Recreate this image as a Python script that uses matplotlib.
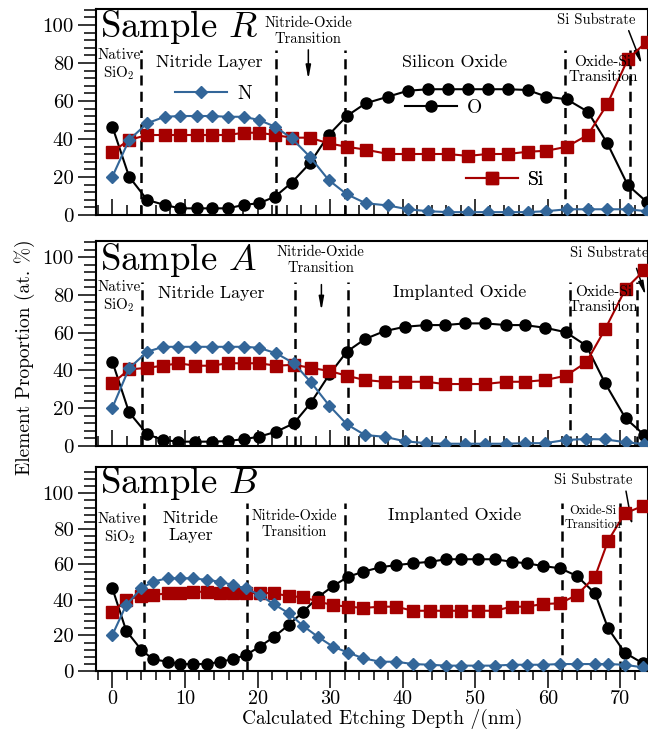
import matplotlib
matplotlib.use('Agg')
import matplotlib.pyplot as plt
from matplotlib.lines import Line2D
from matplotlib.ticker import MultipleLocator

plt.rcParams.update({
    'font.family': 'serif',
    'font.serif': ['cmr10'],
    'mathtext.fontset': 'cm',
    'axes.unicode_minus': False,
    'axes.linewidth': 1.5,
})

BLUE = '#336699'
RED = '#a50000'

# ---- Sample R (top) ----
depth_R = [0, 2.3, 4.8, 7.2, 9.3, 11.6, 13.7, 15.9, 18.1, 20.2, 22.4, 24.7, 27.2, 29.8, 32.3,
           34.9, 38.0, 40.7, 43.5, 46.2, 49.0, 51.7, 54.5, 57.2, 59.8, 62.6, 65.5, 68.2, 71.0, 73.6]
N_R = [20.2, 39.5, 48.3, 51.7, 52.1, 52.1, 52.1, 51.7, 51.7, 50.0, 46.5, 40.4, 30.7, 18.4, 10.9,
       6.2, 5.0, 3.0, 2.0, 1.5, 1.5, 1.5, 1.5, 1.5, 2.0, 3.0, 3.0, 3.0, 3.0, 2.0]
O_R = [46.5, 20.2, 7.9, 5.3, 3.5, 3.5, 3.5, 3.5, 5.3, 6.2, 9.6, 17.0, 27.2, 42.1, 52.1,
       58.8, 62.3, 65.4, 66.2, 66.2, 66.2, 66.2, 66.2, 65.8, 62.3, 60.9, 54.4, 37.7, 15.8, 7.0]
Si_R = [33.3, 39.5, 42.1, 42.1, 42.1, 42.1, 42.1, 42.1, 43.3, 43.3, 42.1, 40.7, 40.7, 37.7, 35.9,
        34.4, 32.1, 32.1, 32.1, 32.1, 31.1, 32.1, 32.1, 33.3, 33.8, 35.9, 42.1, 58.4, 81.9, 91.2]

# ---- Sample A (middle) ----
depth_A = [0, 2.3, 4.8, 7.0, 9.1, 11.4, 13.7, 15.9, 18.2, 20.2, 22.6, 25.0, 27.3, 29.9, 32.3,
           34.8, 37.5, 40.3, 43.2, 45.8, 48.6, 51.3, 54.3, 56.8, 59.6, 62.5, 65.3, 67.9, 70.7, 73.3]
N_A = [20.3, 41.1, 49.9, 52.5, 52.5, 52.5, 52.5, 52.5, 52.5, 52.0, 49.0, 43.8, 34.0, 21.3, 11.5,
       5.8, 4.9, 2.5, 1.5, 1.2, 1.2, 1.2, 1.2, 1.5, 1.5, 3.2, 3.7, 3.5, 2.0, 1.0]
O_A = [44.6, 17.8, 6.2, 3.2, 2.3, 2.3, 2.3, 2.6, 3.7, 4.9, 7.6, 12.0, 22.6, 37.9, 49.9,
       56.6, 60.8, 63.1, 64.0, 64.0, 64.9, 64.9, 64.0, 64.0, 62.6, 60.2, 53.1, 33.2, 14.7, 5.8]
Si_A = [33.2, 40.5, 41.4, 42.5, 43.8, 42.5, 42.5, 43.8, 43.8, 43.8, 42.5, 43.0, 41.4, 39.7, 37.2,
        34.9, 34.0, 34.0, 34.0, 32.8, 32.8, 32.8, 34.0, 34.0, 34.9, 37.2, 44.3, 61.9, 83.1, 93.1]

# ---- Sample B (bottom) ----
depth_B = [0, 1.9, 4.0, 5.6, 7.6, 9.3, 11.1, 13.1, 14.8, 16.6, 18.4, 20.3, 22.2, 24.3, 26.3, 28.4,
           30.4, 32.5, 34.6, 36.9, 39.1, 41.4, 43.8, 46.0, 48.1, 50.4, 52.7, 55.0, 57.1, 59.3,
           61.7, 64.0, 66.5, 68.3, 70.6, 73.1]
N_B = [20.3, 37.1, 46.5, 50.3, 52.2, 52.2, 52.2, 51.2, 50.3, 48.4, 46.5, 42.8, 37.7, 32.5, 25.3, 19.0,
       13.7, 10.3, 7.1, 5.2, 5.2, 3.9, 3.5, 3.0, 3.0, 3.0, 3.0, 3.5, 3.5, 3.5,
       3.9, 3.9, 3.9, 3.9, 3.5, 2.0]
O_B = [46.5, 22.7, 11.8, 6.6, 5.2, 3.9, 3.9, 3.9, 5.2, 6.6, 9.0, 13.7, 19.0, 25.9, 33.4, 41.8,
       47.8, 53.1, 55.9, 58.4, 59.6, 60.6, 61.5, 62.9, 62.9, 62.9, 62.9, 61.5, 60.6, 59.1,
       57.8, 53.5, 43.7, 24.0, 10.3, 4.3]
Si_B = [33.4, 40.0, 42.2, 42.8, 43.7, 43.7, 44.6, 44.6, 43.7, 43.7, 43.7, 44.1, 43.7, 42.2, 41.5, 39.0,
        37.1, 36.2, 35.5, 36.2, 36.2, 33.9, 33.9, 33.9, 33.9, 33.9, 33.9, 36.2, 36.2, 37.7,
        38.1, 42.8, 53.1, 73.3, 88.7, 92.9]

# layer boundaries (nm)
bounds_R = [4.0, 22.5, 32.0, 62.3, 71.3]
bounds_A = [4.1, 25.2, 32.4, 63.0, 72.3]
bounds_B = [4.4, 18.6, 32.1, 61.9, 70.0]

fig = plt.figure(figsize=(6.48, 7.29), dpi=100)

panels = [
    dict(name='Sample $R$', x=depth_R, n=N_R, o=O_R, si=Si_R, bounds=bounds_R, rect=[0.148, 0.7051, 0.852, 0.2822],
         ylim=108.3, btop=86.8, name_y=93.8,
         labels=[('Native\nSiO$_2$', 0.9, 78.8, 10.8), ('Nitride Layer', 13.4, 80.7, 13),
                 ('Nitride-Oxide\nTransition', 27.0, 96.9, 10.5), ('Silicon Oxide', 47.2, 80.2, 13),
                 ('Oxide-Si\nTransition', 67.6, 76.5, 11), ('Si Substrate', 66.7, 102.6, 10.5)],
         arrows=[((27.0, 88.4), (27.0, 70.0)), ((71.0, 98.4), (73.1, 77.9))]),
    dict(name='Sample $A$', x=depth_A, n=N_A, o=O_A, si=Si_A, bounds=bounds_A, rect=[0.148, 0.3882, 0.852, 0.2812],
         ylim=108.5, btop=86.9, name_y=93.1,
         labels=[('Native\nSiO$_2$', 0.9, 79.0, 10.8), ('Nitride Layer', 13.6, 80.8, 13),
                 ('Nitride-Oxide\nTransition', 28.7, 98.6, 10.5), ('Implanted Oxide', 47.9, 81.3, 13),
                 ('Oxide-Si\nTransition', 67.7, 77.5, 11), ('Si Substrate', 68.4, 102.0, 10.5)],
         arrows=[((28.8, 86.9), (28.8, 70.2)), ((72.1, 95.4), (73.6, 78.3))]),
    dict(name='Sample $B$', x=depth_B, n=N_B, o=O_B, si=Si_B, bounds=bounds_B, rect=[0.148, 0.0796, 0.852, 0.2802],
         ylim=115.0, btop=94.5, name_y=100.0,
         labels=[('Native\nSiO$_2$', 1.0, 79.8, 10.8), ('Nitride\nLayer', 10.8, 81.2, 13),
                 ('Nitride-Oxide\nTransition', 25.1, 82.8, 10.3), ('Implanted Oxide', 47.1, 87.8, 13),
                 ('Oxide-Si\nTransition', 66.2, 86.1, 9), ('Si Substrate', 66.2, 107.5, 10.5)],
         arrows=[((70.7, 102.8), (71.7, 80.3))]),
]

axes = []
for i, p in enumerate(panels):
    ax = fig.add_axes(p['rect'])
    axes.append(ax)
    ax.plot(p['x'], p['o'], color='k', lw=1.5, marker='o', ms=8, zorder=3)
    ax.plot(p['x'], p['si'], color=RED, lw=1.5, marker='s', ms=9, zorder=4)
    ax.plot(p['x'], p['n'], color=BLUE, lw=1.5, marker='D', ms=6.5, zorder=5)
    for b in p['bounds']:
        ax.plot([b, b], [0, p['btop']], color='k', lw=1.8, ls=(0, (4, 2.5)), zorder=2)
    ax.set_xlim(-2.27, 73.8)
    ax.set_ylim(0, p['ylim'])
    ax.text(-1.7, p['name_y'], p['name'], fontsize=26.5, ha='left', va='baseline')
    for txt, tx, ty, fs in p['labels']:
        ax.text(tx, ty, txt, fontsize=fs, ha='center', va='center', linespacing=1.2, zorder=6)
    for start, end in p['arrows']:
        ax.annotate('', xy=end, xytext=start,
                    arrowprops=dict(arrowstyle='-|>,head_width=0.15,head_length=0.8', color='k', lw=1.1))
    ax.xaxis.set_major_locator(MultipleLocator(10))
    ax.xaxis.set_minor_locator(MultipleLocator(2))
    ax.yaxis.set_major_locator(MultipleLocator(20))
    ax.yaxis.set_minor_locator(MultipleLocator(4))
    ax.tick_params(axis='y', which='major', direction='out', length=13, width=1.1, labelsize=15, pad=3)
    ax.tick_params(axis='y', which='minor', direction='out', length=8.4, width=1.1)
    if i < 2:
        ax.tick_params(axis='x', which='major', direction='in', length=11.5, width=1.1, labelbottom=False)
        ax.tick_params(axis='x', which='minor', direction='in', length=7.5, width=1.1)
    else:
        ax.tick_params(axis='x', which='major', direction='out', length=12.5, width=1.1, labelsize=14.5, pad=1)
        ax.tick_params(axis='x', which='minor', direction='out', length=6.5, width=1.1)

# legends only on the top panel
top = axes[0]
leg_specs = [('N', BLUE, 'D', 6.5, 8.6, 63.7), ('O', 'k', 'o', 8, 40.3, 56.3), ('Si', RED, 's', 9, 48.7, 18.4)]
for lab, c, m, ms, lx, ly in leg_specs:
    h = Line2D([], [], color=c, marker=m, ms=ms, lw=1.5)
    leg = top.legend([h], [lab], loc='center left', bbox_to_anchor=(lx, ly), bbox_transform=top.transData,
                     frameon=False, fontsize=14, handlelength=2.7, handletextpad=0.5, borderpad=0, borderaxespad=0)
    top.add_artist(leg)

fig.text(25 / 648, 1 - 357 / 729, 'Element Proportion (at. %)', rotation=90, fontsize=14, ha='center', va='center')
fig.text(382 / 648, 1 - 719 / 729, 'Calculated Etching Depth /(nm)', fontsize=14, ha='center', va='center')

fig.savefig('out.png', dpi=100)
